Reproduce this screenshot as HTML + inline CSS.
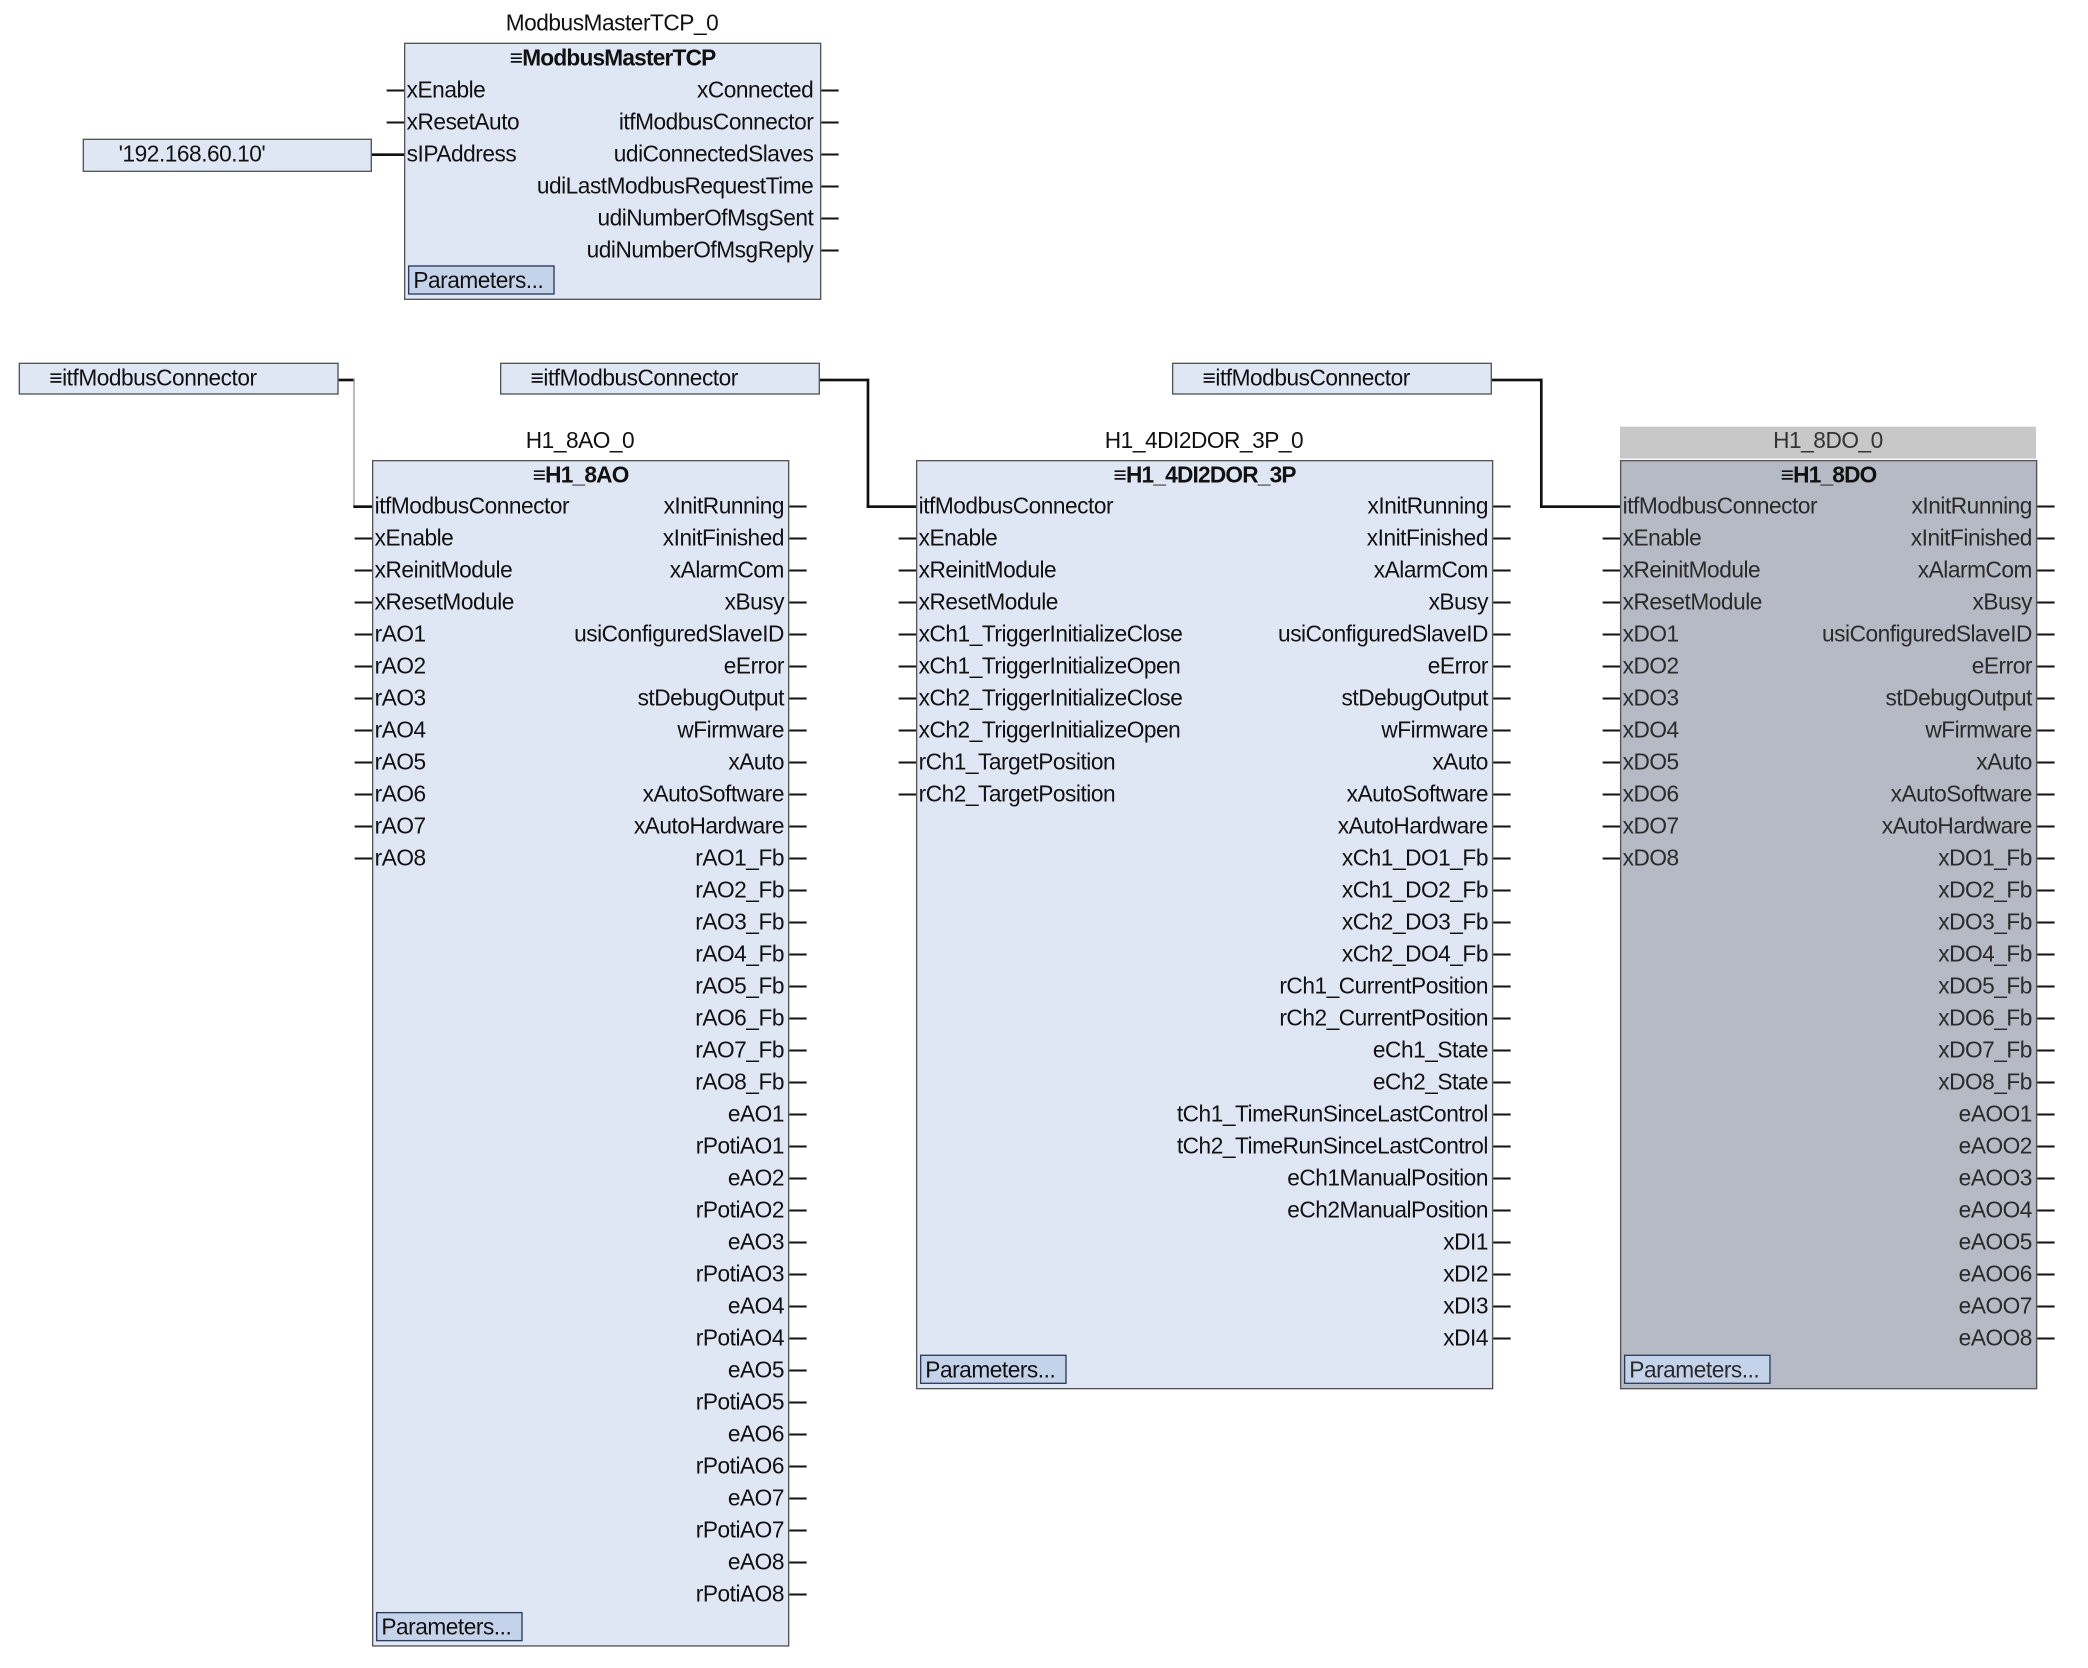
<!DOCTYPE html>
<html><head><meta charset="utf-8"><style>
html,body{margin:0;padding:0;background:#fff;width:2088px;height:1668px;overflow:hidden}
#s{position:absolute;left:0;top:0;width:1566px;height:1251px;transform:scale(1.3333);transform-origin:0 0;font-family:"Liberation Sans",sans-serif;font-size:17px;letter-spacing:-0.35px;color:#111}
.box{position:absolute;background:#dfe6f4;border:1.5px solid #555;box-sizing:border-box}
.gray{background:#b5bac5;color:#2a2a2a}
.hd{position:absolute;left:0;right:0;top:0;height:22px;line-height:22px;text-align:center;font-weight:bold;letter-spacing:-0.6px}
.col{position:absolute;top:22px;line-height:24px;white-space:nowrap}
.L{left:1px}.R{right:3px;text-align:right}
.pin{position:absolute;width:13px;background:repeating-linear-gradient(to bottom,transparent 0,transparent 11px,#111 11px,#111 12.5px,transparent 12.5px,transparent 24px)}
.btn{position:absolute;left:2px;width:110px;height:22px;line-height:22px;background:#c4d2ea;border:1.5px solid #2a3b5c;box-sizing:border-box;padding-left:3px}
.lbl{position:absolute;text-align:center;height:22px;line-height:22px}
.h{position:absolute;background:#111;height:1.5px}
.v{position:absolute;background:#111;width:1.5px}
.con{position:absolute;background:#dfe6f4;border:1.5px solid #555;box-sizing:border-box;height:24px;line-height:21px;width:240px;padding-left:22px}
</style></head><body><div id="s">

<div class="lbl" style="left:303px;width:312px;top:7px">ModbusMasterTCP_0</div>
<div class="box" style="left:303px;top:32px;width:313px;height:193px">
<div class="hd">≡ModbusMasterTCP</div>
<div class="col L" style="top:23px">xEnable<br>xResetAuto<br>sIPAddress</div>
<div class="col R" style="top:23px;right:5px">xConnected<br>itfModbusConnector<br>udiConnectedSlaves<br>udiLastModbusRequestTime<br>udiNumberOfMsgSent<br>udiNumberOfMsgReply</div>
<div class="btn" style="top:166px">Parameters...</div>
</div>
<div class="pin" style="left:290px;top:56px;height:48px"></div>
<div class="pin" style="left:616px;top:56px;height:144px"></div>
<div class="box" style="left:62px;top:104px;width:217px;height:25px;line-height:22px;padding-left:26px">'192.168.60.10'</div>
<div class="h" style="left:279px;top:115px;width:24px"></div>

<div class="con" style="left:14px;top:272px">≡itfModbusConnector</div>
<div class="con" style="left:375px;top:272px">≡itfModbusConnector</div>
<div class="con" style="left:879px;top:272px">≡itfModbusConnector</div>
<div class="h" style="left:254px;top:284px;width:12px"></div>
<div class="v" style="left:265px;top:284px;height:96px;background:#999;width:1px"></div>
<div class="h" style="left:265px;top:379px;width:14px"></div>
<div class="h" style="left:615px;top:284px;width:36px"></div>
<div class="v" style="left:650px;top:284px;height:97px"></div>
<div class="h" style="left:650px;top:379px;width:37px"></div>
<div class="h" style="left:1119px;top:284px;width:37px"></div>
<div class="v" style="left:1155px;top:284px;height:97px"></div>
<div class="h" style="left:1155px;top:379px;width:60px"></div>

<div class="lbl" style="left:279px;width:312px;top:320px">H1_8AO_0</div>
<div class="box" style="left:279px;top:345px;width:313px;height:890px">
<div class="hd">≡H1_8AO</div>
<div class="col L">itfModbusConnector<br>xEnable<br>xReinitModule<br>xResetModule<br>rAO1<br>rAO2<br>rAO3<br>rAO4<br>rAO5<br>rAO6<br>rAO7<br>rAO8</div>
<div class="col R">xInitRunning<br>xInitFinished<br>xAlarmCom<br>xBusy<br>usiConfiguredSlaveID<br>eError<br>stDebugOutput<br>wFirmware<br>xAuto<br>xAutoSoftware<br>xAutoHardware<br>rAO1_Fb<br>rAO2_Fb<br>rAO3_Fb<br>rAO4_Fb<br>rAO5_Fb<br>rAO6_Fb<br>rAO7_Fb<br>rAO8_Fb<br>eAO1<br>rPotiAO1<br>eAO2<br>rPotiAO2<br>eAO3<br>rPotiAO3<br>eAO4<br>rPotiAO4<br>eAO5<br>rPotiAO5<br>eAO6<br>rPotiAO6<br>eAO7<br>rPotiAO7<br>eAO8<br>rPotiAO8</div>
<div class="btn" style="top:863px">Parameters...</div>
</div>
<div class="pin" style="left:266px;top:392px;height:264px"></div>
<div class="pin" style="left:592px;top:368px;height:840px"></div>

<div class="lbl" style="left:687px;width:432px;top:320px">H1_4DI2DOR_3P_0</div>
<div class="box" style="left:687px;top:345px;width:433px;height:697px">
<div class="hd">≡H1_4DI2DOR_3P</div>
<div class="col L">itfModbusConnector<br>xEnable<br>xReinitModule<br>xResetModule<br>xCh1_TriggerInitializeClose<br>xCh1_TriggerInitializeOpen<br>xCh2_TriggerInitializeClose<br>xCh2_TriggerInitializeOpen<br>rCh1_TargetPosition<br>rCh2_TargetPosition</div>
<div class="col R">xInitRunning<br>xInitFinished<br>xAlarmCom<br>xBusy<br>usiConfiguredSlaveID<br>eError<br>stDebugOutput<br>wFirmware<br>xAuto<br>xAutoSoftware<br>xAutoHardware<br>xCh1_DO1_Fb<br>xCh1_DO2_Fb<br>xCh2_DO3_Fb<br>xCh2_DO4_Fb<br>rCh1_CurrentPosition<br>rCh2_CurrentPosition<br>eCh1_State<br>eCh2_State<br>tCh1_TimeRunSinceLastControl<br>tCh2_TimeRunSinceLastControl<br>eCh1ManualPosition<br>eCh2ManualPosition<br>xDI1<br>xDI2<br>xDI3<br>xDI4</div>
<div class="btn" style="top:670px">Parameters...</div>
</div>
<div class="pin" style="left:674px;top:392px;height:216px"></div>
<div class="pin" style="left:1120px;top:368px;height:648px"></div>

<div class="lbl" style="left:1215px;width:312px;top:320px;height:24px;background:#c8c8c8;color:#333">H1_8DO_0</div>
<div class="box gray" style="left:1215px;top:345px;width:313px;height:697px">
<div class="hd" style="color:#111">≡H1_8DO</div>
<div class="col L">itfModbusConnector<br>xEnable<br>xReinitModule<br>xResetModule<br>xDO1<br>xDO2<br>xDO3<br>xDO4<br>xDO5<br>xDO6<br>xDO7<br>xDO8</div>
<div class="col R">xInitRunning<br>xInitFinished<br>xAlarmCom<br>xBusy<br>usiConfiguredSlaveID<br>eError<br>stDebugOutput<br>wFirmware<br>xAuto<br>xAutoSoftware<br>xAutoHardware<br>xDO1_Fb<br>xDO2_Fb<br>xDO3_Fb<br>xDO4_Fb<br>xDO5_Fb<br>xDO6_Fb<br>xDO7_Fb<br>xDO8_Fb<br>eAOO1<br>eAOO2<br>eAOO3<br>eAOO4<br>eAOO5<br>eAOO6<br>eAOO7<br>eAOO8</div>
<div class="btn" style="top:670px">Parameters...</div>
</div>
<div class="pin" style="left:1202px;top:392px;height:264px"></div>
<div class="pin" style="left:1528px;top:368px;height:648px"></div>

</div></body></html>
